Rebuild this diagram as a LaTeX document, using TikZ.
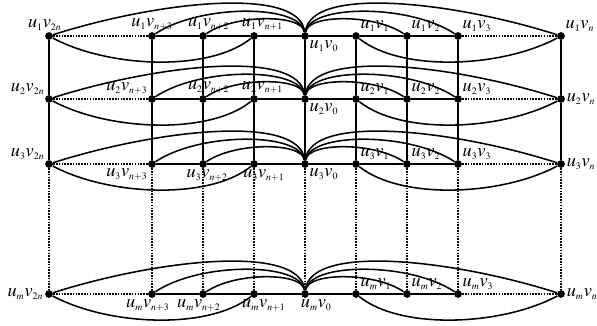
\documentclass[tikz,border=0pt]{standalone}
\usepackage{mathptmx}
\usepackage{tikz}
\DeclareMathSizes{13}{13}{7}{5.5}

\tikzset{
    vtx/.style = {circle, fill=black, inner sep=0pt, minimum size=5.5pt},
    lbl/.style = {inner sep=1pt, font=\fontsize{13}{15}\selectfont},
    edge/.style = {line width=1.1pt},
    dotline/.style = {line width=1.1pt, dash pattern=on 1.1pt off 0.9pt}
}

\begin{document}
\begin{tikzpicture}[x=0.025cm, y=-0.025cm]
\useasboundingbox (0,0) rectangle (597,325);

%% Row 1
\node[vtx, label={[lbl, xshift=-3pt]above:$u_1v_{2n}$}]  (u1-v2n) at (49,36)  {};
\node[vtx, label={[lbl]above:$u_1v_{n+3}$}]              (u1-vn3) at (152,36) {};
\node[vtx, label={[lbl, xshift=4pt]above:$u_1v_{n+2}$}]  (u1-vn2) at (203,36) {};
\node[vtx, label={[lbl, xshift=6pt]above:$u_1v_{n+1}$}]  (u1-vn1) at (254,36) {};
\node[vtx, label={[lbl]below right:$u_1v_0$}]            (u1-v0)  at (305,36) {};
\node[vtx, label={[lbl]above right:$u_1v_1$}]            (u1-v1)  at (356,36) {};
\node[vtx, label={[lbl]above right:$u_1v_2$}]            (u1-v2)  at (407,36) {};
\node[vtx, label={[lbl]above right:$u_1v_3$}]            (u1-v3)  at (458,36) {};
\node[vtx, label={[lbl]above right:$u_1v_n$}]            (u1-vn)  at (561,36) {};

%% Row 2
\node[vtx, label={[lbl]above left:$u_2v_{2n}$}]          (u2-v2n) at (49,99)  {};
\node[vtx, label={[lbl]above left:$u_2v_{n+3}$}]         (u2-vn3) at (152,99) {};
\node[vtx, label={[lbl, xshift=4pt]above:$u_2v_{n+2}$}]  (u2-vn2) at (203,99) {};
\node[vtx, label={[lbl, xshift=6pt]above:$u_2v_{n+1}$}]  (u2-vn1) at (254,99) {};
\node[vtx, label={[lbl]below right:$u_2v_0$}]            (u2-v0)  at (305,99) {};
\node[vtx, label={[lbl]above right:$u_2v_1$}]            (u2-v1)  at (356,99) {};
\node[vtx, label={[lbl]above right:$u_2v_2$}]            (u2-v2)  at (407,99) {};
\node[vtx, label={[lbl]above right:$u_2v_3$}]            (u2-v3)  at (458,99) {};
\node[vtx, label={[lbl]right:$u_2v_n$}]                  (u2-vn)  at (561,99) {};

%% Row 3
\node[vtx, label={[lbl]above left:$u_3v_{2n}$}]          (u3-v2n) at (49,164)  {};
\node[vtx, label={[lbl]below left:$u_3v_{n+3}$}]         (u3-vn3) at (152,164) {};
\node[vtx, label={[lbl, xshift=3pt]below:$u_3v_{n+2}$}]  (u3-vn2) at (203,164) {};
\node[vtx, label={[lbl, xshift=7pt]below:$u_3v_{n+1}$}]  (u3-vn1) at (254,164) {};
\node[vtx, label={[lbl]below right:$u_3v_0$}]            (u3-v0)  at (305,164) {};
\node[vtx, label={[lbl]above right:$u_3v_1$}]            (u3-v1)  at (356,164) {};
\node[vtx, label={[lbl]above right:$u_3v_2$}]            (u3-v2)  at (407,164) {};
\node[vtx, label={[lbl]above right:$u_3v_3$}]            (u3-v3)  at (458,164) {};
\node[vtx, label={[lbl]right:$u_3v_n$}]                  (u3-vn)  at (561,164) {};

%% Row m
\node[vtx, label={[lbl]left:$u_mv_{2n}$}]                (um-v2n) at (49,294)  {};
\node[vtx, label={[lbl, xshift=-3pt]below:$u_mv_{n+3}$}] (um-vn3) at (152,294) {};
\node[vtx, label={[lbl, xshift=-3pt]below:$u_mv_{n+2}$}] (um-vn2) at (203,294) {};
\node[vtx, label={[lbl, xshift=7pt]below:$u_mv_{n+1}$}]  (um-vn1) at (254,294) {};
\node[vtx, label={[lbl, xshift=8pt]below:$u_mv_0$}]      (um-v0)  at (305,294) {};
\node[vtx, label={[lbl]above right:$u_mv_1$}]            (um-v1)  at (356,294) {};
\node[vtx, label={[lbl]above right:$u_mv_2$}]            (um-v2)  at (407,294) {};
\node[vtx, label={[lbl]above right:$u_mv_3$}]            (um-v3)  at (458,294) {};
\node[vtx, label={[lbl]right:$u_mv_n$}]                  (um-vn)  at (561,294) {};

%% Edges inside each row
\foreach \r in {1,2,3,m} {
    \draw[dotline] (u\r-v2n) -- (u\r-vn3);
    \draw[edge] (u\r-vn3) -- (u\r-vn2) -- (u\r-vn1) -- (u\r-v0)
                -- (u\r-v1) -- (u\r-v2) -- (u\r-v3);
    \draw[dotline] (u\r-v3) -- (u\r-vn);
    % arcs above
    \draw[edge] (u\r-v2n) .. controls +(110,-35) and +(-5,-50) .. (u\r-v0);
    \draw[edge] (u\r-vn3) .. controls +(48,-32) and +(-5,-32) .. (u\r-v0);
    \draw[edge] (u\r-vn2) .. controls +(32,-22) and +(-3,-22) .. (u\r-v0);
    \draw[edge] (u\r-v0) .. controls +(3,-22) and +(-32,-22) .. (u\r-v2);
    \draw[edge] (u\r-v0) .. controls +(5,-32) and +(-48,-32) .. (u\r-v3);
    \draw[edge] (u\r-v0) .. controls +(5,-50) and +(-110,-35) .. (u\r-vn);
    % arcs below
    \draw[edge] (u\r-v2n) .. controls +(60,32) and +(-45,36) .. (u\r-vn1);
    \draw[edge] (u\r-v1) .. controls +(45,36) and +(-60,32) .. (u\r-vn);
}

%% Edges between rows
\foreach \c in {v2n,vn3,vn2,vn1,v0,v1,v2,v3,vn} {
    \draw[edge] (u1-\c) -- (u2-\c) -- (u3-\c);
    \draw[dotline] (u3-\c) -- (um-\c);
}

\end{tikzpicture}
\end{document}
